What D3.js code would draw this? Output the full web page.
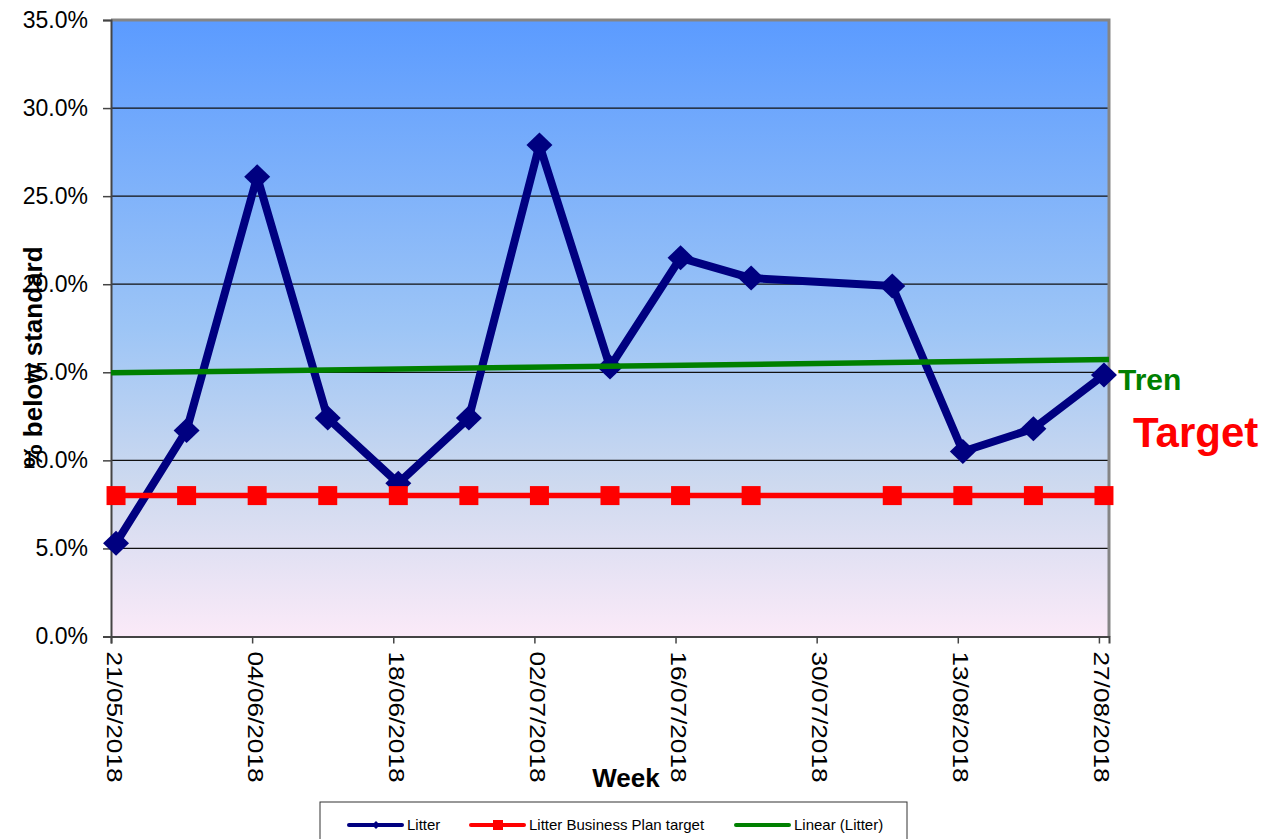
<!DOCTYPE html>
<html>
<head>
<meta charset="utf-8">
<script src="https://cdn.jsdelivr.net/npm/d3@7"></script>
<style>
  body { margin: 0; background: #fff; }
  text { font-family: "Liberation Sans", Arial, sans-serif; }
</style>
</head>
<body>
<script>
// weeks with a reading (no reading for 30/07/2018)
var weeks = ["2018-05-21", "2018-05-28", "2018-06-04", "2018-06-11", "2018-06-18", "2018-06-25",
             "2018-07-02", "2018-07-09", "2018-07-16", "2018-07-23", "2018-08-06", "2018-08-13",
             "2018-08-20", "2018-08-27"];
var litter = [5.3, 11.7, 26.1, 12.4, 8.7, 12.4, 27.9, 15.3, 21.5, 20.35, 19.9, 10.5, 11.8, 14.85];
var target = [8, 8, 8, 8, 8, 8, 8, 8, 8, 8, 8, 8, 8, 8];
// Linear (Litter) read at the ends of the axis
var trendDates = ["2018-05-21", "2018-08-28"];
var trendValues = [14.97, 15.72];

var xTickLabels = ["21/05/2018", "04/06/2018", "18/06/2018", "02/07/2018", "16/07/2018",
                   "30/07/2018", "13/08/2018", "27/08/2018"];
var yTicks = [0, 5, 10, 15, 20, 25, 30, 35];

var W = 1287, H = 839;
var margin = { top: 20, right: 178, bottom: 202.5, left: 111 },
    width = W - margin.left - margin.right,
    height = H - margin.top - margin.bottom;

var parse = d3.utcParse("%Y-%m-%d");
var parseTick = d3.utcParse("%d/%m/%Y");

var x = d3.scaleUtc()
    .domain([parse("2018-05-21"), parse("2018-08-28")])
    .range([0, width]);
var y = d3.scaleLinear().domain([0, 35]).range([height, 0]);

// points sit in the middle of their day
function px(s) { return x(d3.utcHour.offset(parse(s), 12)); }

var svg = d3.select("body").append("svg")
    .attr("width", W).attr("height", H);

var defs = svg.append("defs");
var grad = defs.append("linearGradient").attr("id", "bg")
    .attr("x1", 0).attr("y1", 0).attr("x2", 0).attr("y2", 1);
grad.append("stop").attr("offset", "0%").attr("stop-color", "#5b9bff");
grad.append("stop").attr("offset", "50%").attr("stop-color", "#9dc5f6");
grad.append("stop").attr("offset", "75%").attr("stop-color", "#cdd9ef");
grad.append("stop").attr("offset", "100%").attr("stop-color", "#fbeaf8");

var g = svg.append("g")
    .attr("transform", "translate(" + margin.left + "," + margin.top + ")");

g.append("rect")
    .attr("width", width).attr("height", height)
    .attr("fill", "url(#bg)");

// gridlines
g.selectAll(".grid")
    .data(yTicks.filter(function(d) { return d > 0 && d < 35; }))
    .enter().append("line")
    .attr("x1", 0).attr("x2", width)
    .attr("y1", function(d) { return y(d); })
    .attr("y2", function(d) { return y(d); })
    .attr("stroke", "#111").attr("stroke-width", 1.2);

// top + right border
g.append("path")
    .attr("d", "M0," + y(35) + "H" + width + "V" + height)
    .attr("fill", "none").attr("stroke", "#858585").attr("stroke-width", 3);

// y axis
var yAxis = g.append("g")
    .call(d3.axisLeft(y).tickValues(yTicks).tickSize(8).tickPadding(15)
        .tickFormat(function(d) { return d.toFixed(1) + "%"; }));
yAxis.select(".domain").attr("stroke", "#444").attr("stroke-width", 2);
yAxis.selectAll(".tick line").attr("stroke", "#444").attr("stroke-width", 1.5);
yAxis.selectAll(".tick text")
    .attr("font-size", "23px").attr("fill", "#000")
    .style("font-family", "'Liberation Sans', Arial, sans-serif");

// x axis
var xAxis = g.append("g")
    .attr("transform", "translate(0," + height + ")")
    .call(d3.axisBottom(x)
        .tickValues(xTickLabels.map(function(s) { return parseTick(s); }))
        .tickSize(7)
        .tickFormat(function(d) { return d3.utcFormat("%d/%m/%Y")(d); }));
xAxis.select(".domain").attr("stroke", "#444").attr("stroke-width", 2);
xAxis.selectAll(".tick line").attr("stroke", "#444").attr("stroke-width", 1.5);
xAxis.selectAll(".tick text")
    .attr("font-size", "22px").attr("fill", "#000")
    .attr("text-anchor", "start")
    .attr("dy", null)
    .attr("y", 0)
    .attr("textLength", 131)
    .attr("lengthAdjust", "spacingAndGlyphs")
    .attr("transform", "translate(-5,15) rotate(90)")
    .style("font-family", "'Liberation Sans', Arial, sans-serif");

// Litter series
var line = d3.line()
    .x(function(d, i) { return px(weeks[i]); })
    .y(function(d) { return y(d); });

g.append("path").datum(litter)
    .attr("d", line)
    .attr("fill", "none").attr("stroke", "#000080")
    .attr("stroke-width", 8).attr("stroke-linejoin", "round");

g.selectAll(".dia").data(litter).enter().append("path")
    .attr("d", "M0,-12.5L13,0L0,12.5L-13,0Z")
    .attr("transform", function(d, i) { return "translate(" + px(weeks[i]) + "," + y(d) + ")"; })
    .attr("fill", "#000080");

// target series
g.append("path").datum(target)
    .attr("d", line)
    .attr("fill", "none").attr("stroke", "#ff0000").attr("stroke-width", 5.5);

g.selectAll(".sq").data(target).enter().append("rect")
    .attr("x", function(d, i) { return px(weeks[i]) - 9.5; })
    .attr("y", function(d) { return y(d) - 9.5; })
    .attr("width", 19).attr("height", 19)
    .attr("fill", "#ff0000");

// trend line
g.append("path").datum(trendValues)
    .attr("d", d3.line()
        .x(function(d, i) { return x(parse(trendDates[i])); })
        .y(function(d) { return y(d); }))
    .attr("fill", "none").attr("stroke", "#008000").attr("stroke-width", 5.5);

// side labels
svg.append("text").attr("x", 1118).attr("y", 390)
    .attr("font-size", "30px").attr("font-weight", "bold").attr("fill", "#008000")
    .text("Tren");
svg.append("text").attr("x", 1133).attr("y", 447)
    .attr("font-size", "42px").attr("font-weight", "bold").attr("fill", "#ff0000")
    .text("Target");

// axis titles
svg.append("text")
    .attr("transform", "translate(42,357) rotate(-90)")
    .attr("text-anchor", "middle")
    .attr("font-size", "26px").attr("font-weight", "bold").attr("fill", "#000")
    .text("% below standard");
svg.append("text")
    .attr("x", 626).attr("y", 787)
    .attr("text-anchor", "middle")
    .attr("font-size", "26px").attr("font-weight", "bold").attr("fill", "#000")
    .text("Week");

// legend
var legend = svg.append("g");
legend.append("rect")
    .attr("x", 320).attr("y", 802).attr("width", 587).attr("height", 48)
    .attr("fill", "#fff").attr("stroke", "#333").attr("stroke-width", 1);

var legendItems = [
    { name: "Litter", color: "#000080", marker: "diamond", x0: 349 },
    { name: "Litter Business Plan target", color: "#ff0000", marker: "square", x0: 471 },
    { name: "Linear (Litter)", color: "#008000", marker: null, x0: 736 }
];
var ly = 825;
legendItems.forEach(function(it) {
    legend.append("line")
        .attr("x1", it.x0).attr("x2", it.x0 + 53)
        .attr("y1", ly).attr("y2", ly)
        .attr("stroke", it.color).attr("stroke-width", 4).attr("stroke-linecap", "round");
    if (it.marker === "diamond") {
        legend.append("path")
            .attr("d", "M0,-4L4,0L0,4L-4,0Z")
            .attr("transform", "translate(" + (it.x0 + 27) + "," + ly + ")")
            .attr("fill", it.color);
    } else if (it.marker === "square") {
        legend.append("rect")
            .attr("x", it.x0 + 22).attr("y", ly - 5).attr("width", 10).attr("height", 10)
            .attr("fill", it.color);
    }
    legend.append("text")
        .attr("x", it.x0 + 58).attr("y", ly + 5)
        .attr("font-size", "15px").attr("fill", "#000")
        .text(it.name);
});
</script>
</body>
</html>
